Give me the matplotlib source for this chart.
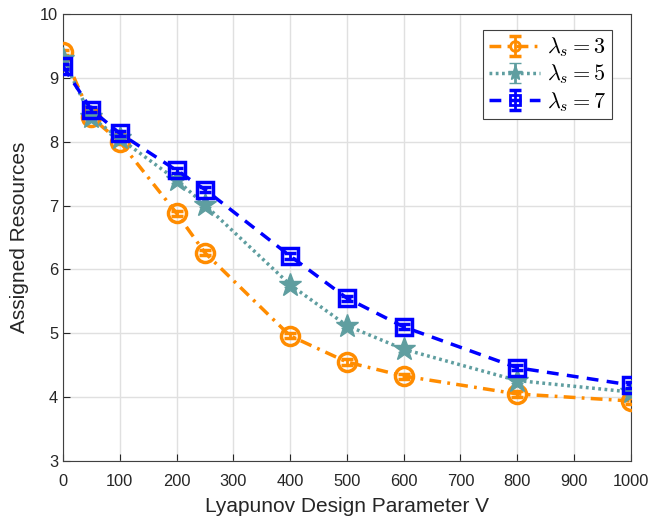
import numpy as np
import matplotlib.pyplot as plt
from matplotlib.lines import Line2D
from matplotlib.container import ErrorbarContainer
from matplotlib.legend_handler import HandlerErrorbar

plt.rcParams['font.family'] = ['Liberation Sans', 'DejaVu Sans']
plt.rcParams['mathtext.fontset'] = 'cm'

# Lyapunov parameter V
V = [0, 50, 100, 200, 250, 400, 500, 600, 800, 1000]

# assigned resources per arrival rate
res_3 = [9.40, 8.38, 8.00, 6.88, 6.26, 4.96, 4.55, 4.33, 4.05, 3.94]
res_5 = [9.30, 8.38, 8.05, 7.40, 7.01, 5.76, 5.12, 4.75, 4.26, 4.08]
res_7 = [9.18, 8.50, 8.13, 7.55, 7.25, 6.21, 5.55, 5.10, 4.46, 4.19]

err_3 = [0.04] * len(V)
err_5 = [0.04] * len(V)
err_7 = [0.04] * len(V)

colors = ['#FF8C00', '#5F9EA0', '#0000FF']
# dash-dot, dotted, dashed (in linewidth units)
styles = [(0, (3.4, 1.8, 0.8, 1.8)), (0, (0.8, 1.0)), (0, (3.4, 2.4))]

fig = plt.figure(figsize=(6.49, 5.23), dpi=100)
ax = fig.add_axes([0.097, 0.1185, 0.875, 0.855])

ax.errorbar(V, res_3, yerr=err_3, color=colors[0], linestyle=styles[0], linewidth=2.5,
            marker='o', markersize=13, markerfacecolor='none', markeredgewidth=2.5,
            capsize=4, elinewidth=2, capthick=2, label=r'$\lambda_s = 3$', zorder=3)
ax.errorbar(V, res_5, yerr=err_5, color=colors[1], linestyle=styles[1], linewidth=2.5,
            marker='*', markersize=17, markerfacecolor=colors[1], markeredgewidth=1,
            capsize=4, elinewidth=2, capthick=2, label=r'$\lambda_s = 5$', zorder=4)
ax.errorbar(V, res_7, yerr=err_7, color=colors[2], linestyle=styles[2], linewidth=2.5,
            marker='s', markersize=11, markerfacecolor='none', markeredgewidth=2.5,
            capsize=4, elinewidth=2, capthick=2, label=r'$\lambda_s = 7$', zorder=5)

ax.set_xlim(0, 1000)
ax.set_ylim(3, 10)
ax.set_xticks(np.arange(0, 1001, 100))
ax.set_yticks(np.arange(3, 11, 1))
ax.grid(True, color='#E0E0E0', linewidth=1)
ax.set_axisbelow(True)
ax.tick_params(direction='in', labelsize=11.8, colors='#262626', length=5)
ax.tick_params(axis='x', pad=9)
for s in ax.spines.values():
    s.set_color('#404040')
    s.set_linewidth(0.8)

ax.set_xlabel('Lyapunov Design Parameter V', fontsize=15, color='#262626', labelpad=6)
ax.set_ylabel('Assigned Resources', fontsize=15, color='#262626', labelpad=8)

leg = ax.legend(loc='upper right', bbox_to_anchor=(0.9665, 0.964), borderaxespad=0,
                fontsize=16, fancybox=False, edgecolor='#404040', framealpha=1,
                handlelength=2.3, borderpad=0.25, labelspacing=0.15, handletextpad=0.3,
                handler_map={ErrorbarContainer: HandlerErrorbar(yerr_size=0.45)})
leg.get_frame().set_linewidth(0.8)
# errorbar handles come out solid in the legend: restore the dash patterns
# and shrink the markers
style_of = dict(zip(colors, styles))
legend_ms = {'o': 7, '*': 11, 's': 7}
for line in leg.findobj(Line2D):
    c = line.get_color()
    if line.get_linestyle() not in ('None', '') and c in style_of:
        line.set_linestyle(style_of[c])
    m = line.get_marker()
    if m in legend_ms:
        line.set_markersize(legend_ms[m])
        line.set_markeredgewidth(2 if m != '*' else 1)

fig.savefig('out.png', dpi=100)
